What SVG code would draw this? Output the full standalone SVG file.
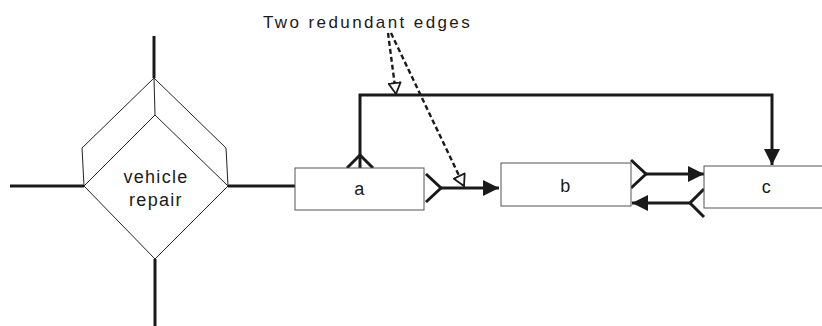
<svg xmlns="http://www.w3.org/2000/svg" width="822" height="326" viewBox="0 0 822 326">
<style>
.box{fill:#fff;stroke:#555;stroke-width:1}
.thin{fill:none;stroke:#222;stroke-width:1}
.thick{fill:none;stroke:#1a1a1a;stroke-width:3}
.dash{fill:none;stroke:#1a1a1a;stroke-width:2.4;stroke-dasharray:5,3}
.lbl{font-family:"Liberation Sans",Arial,sans-serif;font-size:18px;fill:#1a1a1a;text-anchor:middle;letter-spacing:1.3px}
.note{font-family:"Liberation Sans",Arial,sans-serif;font-size:17px;fill:#1a1a1a;letter-spacing:2.4px}
</style>
<defs>
<marker id="fill" viewBox="0 0 16 16" refX="16" refY="8" markerWidth="16" markerHeight="16" markerUnits="userSpaceOnUse" orient="auto">
<path d="M0,0 L16,8 L0,16 Z" fill="#1a1a1a"/>
</marker>
<marker id="hollow" viewBox="0 0 14 14" refX="12" refY="7" markerWidth="14" markerHeight="14" markerUnits="userSpaceOnUse" orient="auto">
<path d="M1,1 L12,7 L1,13 Z" fill="#fff" stroke="#1a1a1a" stroke-width="1.8"/>
</marker>
</defs>
<g id="connectors">
<path class="thick" d="M154,36 V78"/>
<path class="thick" d="M155,259 V326"/>
<path class="thick" d="M10,186 H84"/>
<path class="thick" d="M228,186 H295"/>
<path class="thick" d="M360,168 V95 H772 V165" marker-end="url(#fill)"/>
<path class="thick" d="M347,168 L360,155 L373,168"/>
<path class="thick" d="M441,188 H499" marker-end="url(#fill)"/>
<path class="thick" d="M426,174 L441,188 L426,202"/>
<path class="thick" d="M646,174 H704" marker-end="url(#fill)"/>
<path class="thick" d="M631,160 L646,174 L631,188"/>
<path class="thick" d="M690,203 H632" marker-end="url(#fill)"/>
<path class="thick" d="M704,189 L690,203 L704,217"/>
<path class="dash" d="M388,33 L396,94" marker-end="url(#hollow)"/>
<path class="dash" d="M391,33 L464,186" marker-end="url(#hollow)"/>
</g>
<g id="vehicle-repair">
<path class="thin" d="M154,78 L82,148 L84,186 M154,78 L226,148 L228,186 M154,78 L155,115" fill="none"/>
<polygon points="155,115 228,186 155,259 84,186" fill="#fff" stroke="#222" stroke-width="1"/>
<text class="lbl" x="156" y="183">vehicle</text>
<text class="lbl" x="156" y="206">repair</text>
</g>
<g id="a">
<rect class="box" x="295" y="168" width="129" height="42"/>
<text class="lbl" x="360" y="195">a</text>
</g>
<g id="b">
<rect class="box" x="501" y="163" width="130" height="43"/>
<text class="lbl" x="566" y="192">b</text>
</g>
<g id="c">
<rect class="box" x="704" y="166" width="130" height="42"/>
<text class="lbl" x="767" y="193">c</text>
</g>
<g id="note">
<text class="note" x="263" y="28">Two redundant edges</text>
</g>
</svg>
